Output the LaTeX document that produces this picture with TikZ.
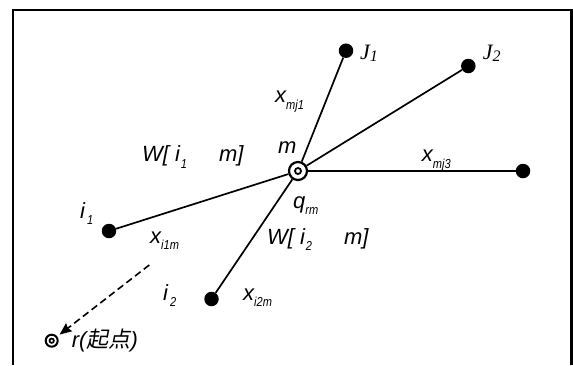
\documentclass[tikz,border=0pt]{standalone}
\usepackage{fontspec}
\usepackage{graphicx}
\setmainfont{Liberation Sans}
\newfontfamily\seriffam{Liberation Serif}
\newfontfamily\cjk[FakeSlant=0.2]{Noto Sans CJK SC}
\usetikzlibrary{arrows.meta}
\newcommand\subs[1]{\raisebox{-0.3em}{\fontsize{13}{13}\selectfont\scalebox{0.85}[1]{#1}}}
\newcommand\jsub[1]{\raisebox{-0.12em}{\fontsize{16}{16}\selectfont #1}}
\begin{document}
\begin{tikzpicture}[x=1pt,y=-1pt,
  dot/.style={circle,fill,inner sep=0pt,minimum size=14.5pt},
  hub/.style={circle,draw,fill=white,line width=2.2pt,inner sep=0pt,minimum size=18pt},
  edge/.style={line width=1.7pt},
  lbl/.style={inner sep=0pt,anchor=base west,font=\fontsize{22}{25}\selectfont\itshape},
  jlbl/.style={inner sep=0pt,anchor=base west,font=\fontsize{22}{25}\selectfont\seriffam\itshape},
]
\useasboundingbox (0,0) rectangle (573,365);
\draw[line width=2.2pt] (12.7,365) -- (12.7,10) -- (571.5,10) -- (571.5,365);

\node[hub] (m) at (298,171) {};
\draw[line width=1.8pt] (m.center) circle (3pt);
\node[dot] (j1) at (346,50.7) {};
\node[dot] (j2) at (468.3,66) {};
\node[dot] (j3) at (523,171) {};
\node[dot] (i1) at (109,231) {};
\node[dot] (i2) at (211.5,299) {};
\node[hub,minimum size=12pt,line width=2pt] (r) at (51.7,340.7) {};
\draw[line width=1.7pt] (r.center) circle (2.2pt);
\coordinate (ds) at (149.3,265);

\draw[edge] (m) -- (j1);
\draw[edge] (m) -- (j2);
\draw[edge] (m) -- (j3);
\draw[edge] (m) -- (i1);
\draw[edge] (m) -- (i2);
\draw[line width=1.6pt,dash pattern=on 7pt off 4pt,shorten >=3pt,-{Stealth[length=12pt,width=10pt,inset=1.5pt]}] (ds) -- (r);

\node[jlbl] (lj1) at (360,59) {J\jsub{1}};
\node[jlbl] (lj2) at (482.7,59) {J\jsub{2}};
\node[lbl] (lxmj1) at (275,102.7) {x\subs{mj1}};
\node[lbl] (lxmj3) at (421.7,161.7) {x\subs{mj3}};
\node[lbl] (lw1) at (142,161.7) {W[\hspace{6pt}i\hspace{1pt}\subs{1}\hspace{32pt}m]};
\node[lbl] (lm) at (278,153) {m};
\node[lbl] (lq) at (293,208) {q\subs{rm}};
\node[lbl] (lw2) at (267,244) {W[\hspace{6pt}i\hspace{1pt}\subs{2}\hspace{32pt}m]};
\node[lbl] (lxi1m) at (150,243) {x\subs{i1m}};
\node[lbl] (li1) at (80,218) {i\hspace{2pt}\subs{1}};
\node[lbl] (li2) at (163,300) {i\hspace{2pt}\subs{2}};
\node[lbl] (lxi2m) at (243,300) {x\subs{i2m}};
\node[lbl] (lr) at (71.7,347) {r({\cjk 起点})};
\end{tikzpicture}
\end{document}
